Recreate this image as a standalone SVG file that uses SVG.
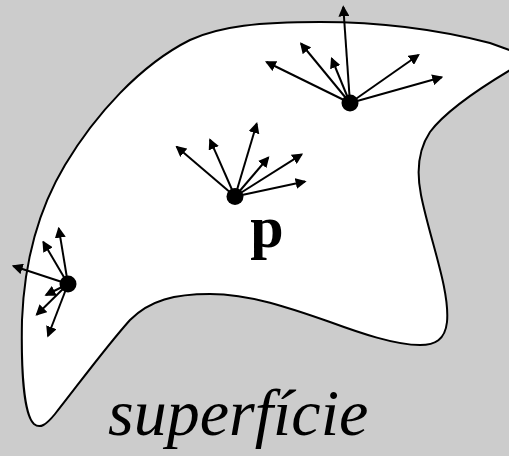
<svg xmlns="http://www.w3.org/2000/svg" width="509" height="456" viewBox="0 0 509 456">
<defs>
<style>
.ar{stroke:#000;stroke-width:2;fill:none;marker-end:url(#ah)}
.dot{fill:#000}
</style>
<marker id="ah" viewBox="0 0 10 10" refX="8.5" refY="5" markerWidth="11" markerHeight="11" markerUnits="userSpaceOnUse" orient="auto">
<path d="M0,0 L10,5 L0,10 z" fill="#000"/>
</marker>
</defs>
<rect width="509" height="456" fill="#cccccc"/>
<g id="surface">
<path d="M 512,69 C 480,88 445,112 430,132 C 418,150 416,170 421,195 C 430,240 450,290 447,322 C 445,340 435,345 420,345 C 395,345 360,333 330,322 C 290,308 250,294 210,294 C 175,294 150,300 130,320 C 105,348 78,385 55,414 C 46,425 40,429 34,424 C 24,415 21,370 22,320 C 24,270 35,215 65,165 C 95,115 140,65 190,40 C 220,26 260,22 320,22 C 380,22 440,30 490,43 L 515,52" fill="#fff" stroke="#000" stroke-width="2"/>
</g>
<g id="connectors">
<line class="ar" x1="350" y1="103" x2="343.3" y2="7"/>
<line class="ar" x1="350" y1="103" x2="266.5" y2="62"/>
<line class="ar" x1="350" y1="103" x2="301" y2="43.5"/>
<line class="ar" x1="350" y1="103" x2="331.7" y2="58.5"/>
<line class="ar" x1="350" y1="103" x2="418.5" y2="55"/>
<line class="ar" x1="350" y1="103" x2="441.7" y2="77.3"/>
<line class="ar" x1="235" y1="196.5" x2="176.7" y2="146.7"/>
<line class="ar" x1="235" y1="196.5" x2="210" y2="139.7"/>
<line class="ar" x1="235" y1="196.5" x2="256.7" y2="123.7"/>
<line class="ar" x1="235" y1="196.5" x2="268.3" y2="157.5"/>
<line class="ar" x1="235" y1="196.5" x2="301.7" y2="154.3"/>
<line class="ar" x1="235" y1="196.5" x2="305" y2="181.5"/>
<line class="ar" x1="68" y1="284" x2="58.8" y2="228.3"/>
<line class="ar" x1="68" y1="284" x2="43.3" y2="242"/>
<line class="ar" x1="68" y1="284" x2="13.3" y2="266"/>
<line class="ar" x1="68" y1="284" x2="46" y2="295"/>
<line class="ar" x1="68" y1="284" x2="36.7" y2="314.7"/>
<line class="ar" x1="68" y1="284" x2="48" y2="336"/>
</g>
<g id="point-top"><circle class="dot" cx="350" cy="103" r="8.5"/></g>
<g id="point-p"><circle class="dot" cx="235" cy="196.5" r="8.5"/></g>
<g id="point-left"><circle class="dot" cx="68" cy="284" r="8.5"/></g>
<g id="label-p"><text x="267" y="247" font-family="Liberation Serif, serif" font-weight="bold" font-size="60" text-anchor="middle">p</text></g>
<g id="label-superficie"><text x="108" y="435" font-family="Liberation Serif, serif" font-style="italic" font-size="66" style="font-variant-ligatures:none">superfície</text></g>
</svg>
